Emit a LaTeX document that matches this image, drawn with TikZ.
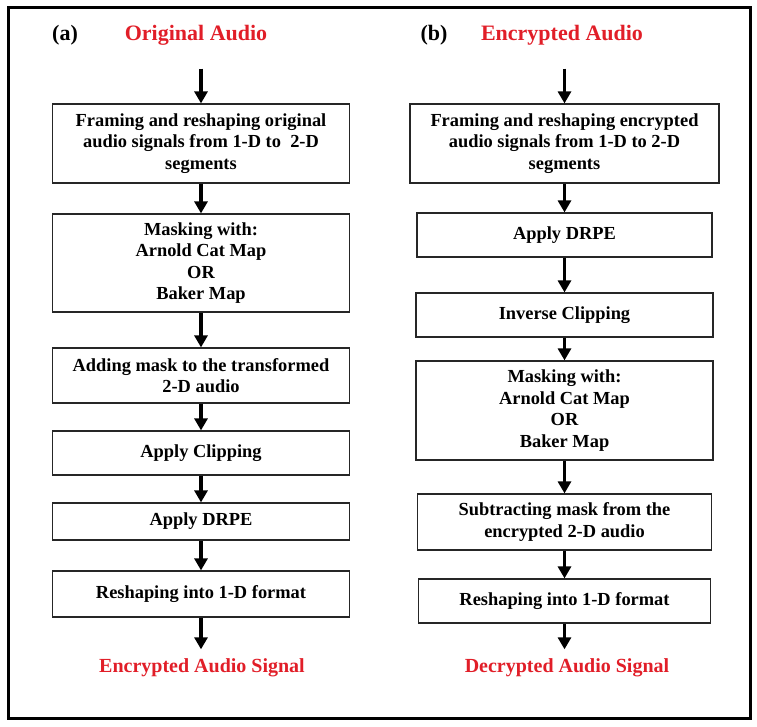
\documentclass[tikz,border=0pt]{standalone}
\usepackage{fontspec}
\setmainfont{Liberation Serif}
\usepackage{tikz}
\usetikzlibrary{arrows.meta,positioning}
\definecolor{titlered}{RGB}{225,30,40}

\begin{document}
\begin{tikzpicture}[
    x=1pt, y=1pt,
    node distance=30pt,
    box/.style={draw=black!85, line width=1.2pt, minimum width=297pt, inner sep=2pt, align=center, font=\fontsize{18.4}{21.6}\selectfont\bfseries},
    ttl/.style={font=\fontsize{22}{26}\selectfont\bfseries},
    endl/.style={font=\fontsize{20}{24}\selectfont\bfseries, text=titlered},
    arr/.style={-{Triangle[length=12pt,width=13pt]}, line width=3.8pt}
]
\useasboundingbox (0,0) rectangle (757,-727);
\draw[line width=3pt] (8,-8) rectangle (750,-718);

% (a) encryption
\node[ttl] (labA) at (65,-35) {(a)};
\node[ttl, text=titlered] (inA) at (196,-35) {Original Audio};
\node[box, minimum height=79pt] (a1) at (201,-143.5) {Framing and reshaping original\\audio signals from 1-D to~\ 2-D\\segments};
\node[box, minimum height=98pt, below=29.8pt of a1] (a2) {Masking with:\\Arnold Cat Map\\OR\\Baker Map};
\node[box, minimum height=55pt, below=34.8pt of a2] (a3) {Adding mask to the transformed\\2-D audio};
\node[box, minimum height=44pt, below=26.8pt of a3] (a4) {Apply Clipping};
\node[box, minimum height=37pt, below=26.8pt of a4] (a5) {Apply DRPE};
\node[box, minimum height=46pt, below=29.8pt of a5] (a6) {Reshaping into 1-D format};
\node[endl] (outA) at (202,-668) {Encrypted Audio Signal};

% (b) decryption
\node[ttl] (labB) at (434,-35) {(b)};
\node[ttl, text=titlered] (inB) at (562,-35) {Encrypted Audio};
\node[box, minimum width=309pt, minimum height=79pt] (b1) at (564.5,-143.5) {Framing and reshaping encrypted\\audio signals from 1-D to 2-D\\segments};
\node[box, minimum width=295pt, minimum height=44pt, below=28.8pt of b1] (b2) {Apply DRPE};
\node[box, minimum height=44pt, below=34.8pt of b2] (b3) {Inverse Clipping};
\node[box, minimum height=99pt, below=22.8pt of b3] (b4) {Masking with:\\Arnold Cat Map\\OR\\Baker Map};
\node[box, minimum width=294pt, minimum height=56pt, below=32.8pt of b4] (b5) {Subtracting mask from the\\encrypted 2-D audio};
\node[box, minimum width=292pt, minimum height=44pt, below=27.8pt of b5] (b6) {Reshaping into 1-D format};
\node[endl] (outB) at (567,-668) {Decrypted Audio Signal};

\draw[arr, shorten <=20pt] (a1.north |- inA.south) -- (a1);
\draw[arr] (a1) -- (a2);
\draw[arr] (a2) -- (a3);
\draw[arr] (a3) -- (a4);
\draw[arr] (a4) -- (a5);
\draw[arr] (a5) -- (a6);
\draw[arr, shorten >=6pt] (a6) -- (a6.south |- outA.north);

\draw[arr, shorten <=20pt] (b1.north |- inB.south) -- (b1);
\draw[arr] (b1) -- (b2);
\draw[arr] (b2) -- (b3);
\draw[arr] (b3) -- (b4);
\draw[arr] (b4) -- (b5);
\draw[arr] (b5) -- (b6);
\draw[arr, shorten >=6pt] (b6) -- (b6.south |- outB.north);
\end{tikzpicture}
\end{document}
